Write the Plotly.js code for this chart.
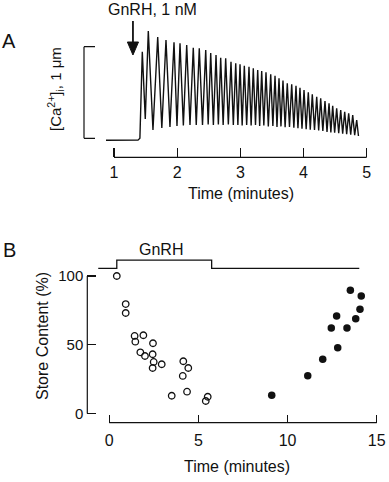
<!DOCTYPE html>
<html>
<head>
<meta charset="utf-8">
<script src="https://cdn.plot.ly/plotly-3.0.1.min.js"></script>
<style>html,body{margin:0;padding:0;background:#fff;}#chart{width:389px;height:482px;}</style>
</head>
<body>
<div id="chart"></div>
<script>
// ---------- Panel A: [Ca2+]i trace (minutes, µM) ----------
var traceTime = [0.873, 1.380, 1.410, 1.448, 1.495, 1.543, 1.617, 1.692, 1.757, 1.823, 1.886, 1.950, 1.997, 2.045, 2.098, 2.151, 2.203, 2.255, 2.302, 2.350, 2.401, 2.452, 2.491, 2.531, 2.573, 2.615, 2.652, 2.689, 2.728, 2.768, 2.810, 2.852, 2.889, 2.927, 2.961, 2.995, 3.029, 3.063, 3.100, 3.137, 3.171, 3.205, 3.240, 3.275, 3.306, 3.338, 3.372, 3.406, 3.443, 3.481, 3.515, 3.549, 3.580, 3.612, 3.643, 3.675, 3.709, 3.743, 3.778, 3.813, 3.847, 3.881, 3.912, 3.944, 3.976, 4.008, 4.042, 4.076, 4.107, 4.139, 4.174, 4.209, 4.240, 4.272, 4.306, 4.340, 4.372, 4.404, 4.433, 4.462, 4.493, 4.525, 4.557, 4.589, 4.620, 4.652, 4.683, 4.715, 4.747, 4.779, 4.810, 4.842, 4.870];
var traceCa = [0.078, 0.080, 0.100, 1.045, 0.311, 1.271, 0.191, 1.206, 0.212, 1.173, 0.223, 1.148, 0.234, 1.137, 0.240, 1.119, 0.245, 1.089, 0.245, 1.083, 0.245, 1.064, 0.250, 1.031, 0.245, 1.009, 0.250, 0.980, 0.245, 0.973, 0.250, 0.936, 0.245, 0.919, 0.245, 0.908, 0.240, 0.893, 0.245, 0.882, 0.240, 0.864, 0.245, 0.846, 0.235, 0.835, 0.240, 0.821, 0.230, 0.799, 0.235, 0.783, 0.225, 0.755, 0.230, 0.731, 0.220, 0.700, 0.225, 0.690, 0.215, 0.674, 0.210, 0.652, 0.205, 0.627, 0.200, 0.602, 0.195, 0.580, 0.190, 0.554, 0.185, 0.537, 0.180, 0.507, 0.170, 0.482, 0.165, 0.456, 0.160, 0.428, 0.155, 0.409, 0.150, 0.390, 0.145, 0.373, 0.140, 0.354, 0.135, 0.300, 0.125];
var ticksA = [1, 2, 3, 4, 5];
var gnrhTimeA = 1.30;
var scaleBarCa = [0.1, 1.1];

// ---------- Panel B: store content ----------
var openTime = [0.42, 0.92, 0.92, 1.42, 1.46, 1.91, 1.74, 2.00, 2.45, 2.43, 2.49, 2.43, 2.94, 3.50, 4.15, 4.43, 4.12, 4.36, 5.52, 5.41];
var openStore = [100, 79.6, 73.1, 56.4, 52.2, 56.9, 44.5, 41.8, 51.1, 43.1, 37.5, 33.1, 35.8, 12.9, 38.0, 33.1, 27.3, 15.9, 12.2, 9.1];
var filledTime = [9.11, 11.13, 11.97, 12.81, 12.45, 12.75, 13.33, 13.52, 13.82, 14.06, 14.13];
var filledStore = [13.2, 27.5, 39.4, 47.9, 62.2, 70.9, 62.2, 89.6, 68.9, 75.8, 85.5];
var stimTime = [-0.62, 0.42, 0.42, 5.74, 5.74, 14.02];
var stimLevel = [105.6, 105.6, 111.6, 111.6, 105.6, 105.6];
var ticksBx = [0, 5, 10, 15];
var ticksBy = [0, 50, 100];

var W = 389, H = 482;
function px(x){ return x / W; }
function py(y){ return 1 - y / H; }
var FONT = 'Liberation Sans, Arial, Helvetica, sans-serif';

var traces = [
  {x: traceTime, y: traceCa, xaxis: 'x', yaxis: 'y', mode: 'lines',
   line: {color: '#111', width: 1.4}, cliponaxis: false, hoverinfo: 'skip'},
  {x: stimTime, y: stimLevel, xaxis: 'x2', yaxis: 'y2', mode: 'lines',
   line: {color: '#111', width: 1.3}, cliponaxis: false, hoverinfo: 'skip'},
  {x: openTime, y: openStore, xaxis: 'x2', yaxis: 'y2', mode: 'markers',
   marker: {symbol: 'circle-open', size: 6.5, color: '#111', line: {width: 1.3, color: '#111'}}, cliponaxis: false},
  {x: filledTime, y: filledStore, xaxis: 'x2', yaxis: 'y2', mode: 'markers',
   marker: {symbol: 'circle', size: 7.5, color: '#111'}, cliponaxis: false}
];

var axBase = {showgrid: false, zeroline: false, showline: false, ticks: 'inside',
  tickcolor: '#111', tickwidth: 1.2, tickfont: {family: FONT, size: 15, color: '#111'}};

var layout = {
  width: W, height: H, margin: {l: 0, r: 0, t: 0, b: 0},
  paper_bgcolor: '#fff', plot_bgcolor: 'rgba(0,0,0,0)', showlegend: false,
  font: {family: FONT, color: '#111'},
  xaxis: Object.assign({}, axBase, {domain: [px(100), px(372)], range: [0.7784, 5.0842],
    tickmode: 'array', tickvals: ticksA, ticktext: ticksA.map(String), ticklen: 9, anchor: 'y',
    ticklabelstandoff: 4, tickfont: {family: FONT, size: 16, color: '#111'}}),
  yaxis: {domain: [py(157.3), py(18)], range: [-0.1074, 1.4133], visible: false, anchor: 'x'},
  xaxis2: Object.assign({}, axBase, {domain: [px(87.3), px(380)], range: [-1.2339, 15.182],
    tickmode: 'array', tickvals: ticksBx, ticktext: ticksBx.map(String), ticklen: 8, anchor: 'y2',
    ticklabelstandoff: 6, tickfont: {family: FONT, size: 16, color: '#111'}}),
  yaxis2: Object.assign({}, axBase, {domain: [py(422.7), py(255)], range: [-6.69, 115.27],
    tickmode: 'array', tickvals: ticksBy, ticktext: ticksBy.map(String), ticklen: 9, anchor: 'x2',
    ticklabelstandoff: 3}),
  shapes: [
    {type: 'line', xref: 'x', yref: 'paper', x0: ticksA[0], x1: ticksA[ticksA.length-1], y0: py(157.3), y1: py(157.3), line: {color: '#111', width: 1.2}},
    {type: 'line', xref: 'paper', yref: 'y', x0: px(84), x1: px(84), y0: scaleBarCa[0], y1: scaleBarCa[1], line: {color: '#111', width: 1.2}},
    {type: 'line', xref: 'paper', yref: 'y', x0: px(84), x1: px(95), y0: scaleBarCa[0], y1: scaleBarCa[0], line: {color: '#111', width: 1.2}},
    {type: 'line', xref: 'paper', yref: 'y', x0: px(84), x1: px(95), y0: scaleBarCa[1], y1: scaleBarCa[1], line: {color: '#111', width: 1.2}},
    {type: 'line', xref: 'x', yref: 'paper', x0: gnrhTimeA, x1: gnrhTimeA, y0: py(21), y1: py(44), line: {color: '#111', width: 1.8}},
    {type: 'path', xref: 'x', yref: 'paper', path: 'M ' + (gnrhTimeA - 0.088) + ',' + py(42) + ' L ' + (gnrhTimeA + 0.088) + ',' + py(42) + ' L ' + gnrhTimeA + ',' + py(55) + ' Z', fillcolor: '#111', line: {color: '#111', width: 1}},
    {type: 'line', xref: 'x2', yref: 'paper', x0: ticksBx[0], x1: ticksBx[ticksBx.length-1], y0: py(422.7), y1: py(422.7), line: {color: '#111', width: 1.2}},
    {type: 'line', xref: 'paper', yref: 'y2', x0: px(87.3), x1: px(87.3), y0: ticksBy[0], y1: ticksBy[ticksBy.length-1], line: {color: '#111', width: 1.2}}
  ],
  annotations: [
    {text: 'A', xref: 'paper', yref: 'paper', x: px(9), y: py(41), showarrow: false, xanchor: 'center', yanchor: 'middle', font: {family: FONT, size: 20, color: '#111'}},
    {text: 'GnRH, 1 nM', xref: 'paper', yref: 'paper', x: px(152), y: py(9.5), showarrow: false, xanchor: 'center', yanchor: 'middle', font: {family: FONT, size: 16, color: '#111'}},
    {text: '[Ca<sup>2+</sup>]<sub>i</sub>, 1 μm', xref: 'paper', yref: 'paper', x: px(55), y: py(89), textangle: -90, showarrow: false, xanchor: 'center', yanchor: 'middle', font: {family: FONT, size: 15, color: '#111'}},
    {text: 'Time (minutes)', xref: 'paper', yref: 'paper', x: px(241), y: py(193), showarrow: false, xanchor: 'center', yanchor: 'middle', font: {family: FONT, size: 16, color: '#111'}},
    {text: 'B', xref: 'paper', yref: 'paper', x: px(9), y: py(249.5), showarrow: false, xanchor: 'center', yanchor: 'middle', font: {family: FONT, size: 20, color: '#111'}},
    {text: 'GnRH', xref: 'paper', yref: 'paper', x: px(161), y: py(249), showarrow: false, xanchor: 'center', yanchor: 'middle', font: {family: FONT, size: 16, color: '#111'}},
    {text: 'Store Content (%)', xref: 'paper', yref: 'paper', x: px(42), y: py(336), textangle: -90, showarrow: false, xanchor: 'center', yanchor: 'middle', font: {family: FONT, size: 16, color: '#111'}},
    {text: 'Time (minutes)', xref: 'paper', yref: 'paper', x: px(237), y: py(466.7), showarrow: false, xanchor: 'center', yanchor: 'middle', font: {family: FONT, size: 16, color: '#111'}}
  ]
};

Plotly.newPlot('chart', traces, layout, {staticPlot: true, displayModeBar: false});
</script>
</body>
</html>
